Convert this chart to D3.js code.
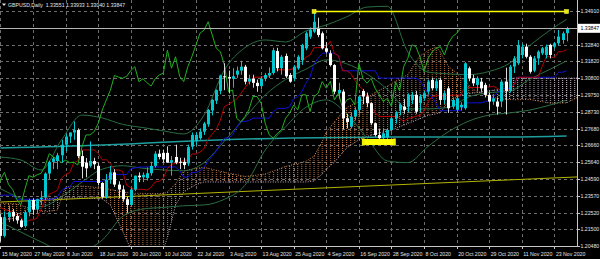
<!DOCTYPE html>
<html lang="en">
<head>
<meta charset="utf-8">
<title>GBPUSD,Daily</title>
<script src="https://cdn.jsdelivr.net/npm/d3@7/dist/d3.min.js"></script>
<style>
html, body { margin: 0; padding: 0; background: #000; overflow: hidden; }
svg { display: block; }
text { font-family: "Liberation Sans", Arial, sans-serif; }
</style>
</head>
<body>
<script>
// GBPUSD daily bars, 15 May 2020 .. 26 Nov 2020
var opens = [
  1.2225,1.2110,1.2225,1.2258,1.2232,1.2205,1.2170,1.2255,1.2330,1.2272,
  1.2336,1.2345,1.2493,1.2565,1.2570,1.2605,1.2670,1.2720,1.2745,1.2760,
  1.2600,1.2560,1.2540,1.2570,1.2540,1.2435,1.2350,1.2455,1.2500,1.2425,
  1.2395,1.2335,1.2300,1.2395,1.2480,1.2470,1.2465,1.2495,1.2540,1.2615,
  1.2620,1.2620,1.2560,1.2595,1.2565,1.2565,1.2555,1.2658,1.2695,1.2710,
  1.2750,1.2795,1.2880,1.2940,1.3000,1.3090,1.3085,1.3075,1.3100,1.3125,
  1.3149,1.3057,1.3075,1.3050,1.3030,1.3078,1.3095,1.3110,1.3245,1.3140,
  1.3215,1.3098,1.3078,1.3139,1.3190,1.3262,1.3333,1.3364,1.3384,1.3354,
  1.3262,1.3231,1.3159,1.2986,1.2996,1.2832,1.2781,1.2843,1.2884,1.3000,
  1.2966,1.2925,1.2802,1.2730,1.2710,1.2715,1.2761,1.2832,1.2884,1.2904,
  1.2904,1.2945,1.2976,1.2925,1.2956,1.2996,1.3068,1.3017,1.3068,1.2945,
  1.3016,1.2904,1.2884,1.2900,1.2894,1.3139,1.3078,1.3037,1.3057,1.3037,
  1.2976,1.2935,1.2935,1.2935,1.3057,1.3000,1.3150,1.3170,1.3221,1.3272,
  1.3210,1.3125,1.3200,1.3231,1.3221,1.3283,1.3272,1.3293,1.3313,1.33551];
var highs = [
  1.2245,1.2260,1.2296,1.2275,1.2250,1.2215,1.2265,1.2338,1.2340,1.2339,
  1.2385,1.2500,1.2572,1.2594,1.2620,1.2700,1.2735,1.2745,1.2813,1.2770,
  1.2634,1.2588,1.2690,1.2590,1.2560,1.2440,1.2490,1.2540,1.2520,1.2445,
  1.2420,1.2352,1.2405,1.2480,1.2500,1.2500,1.2530,1.2565,1.2630,1.2640,
  1.2640,1.2660,1.2600,1.2670,1.2590,1.2590,1.2670,1.2745,1.2745,1.2770,
  1.2810,1.2890,1.2950,1.3010,1.3100,1.3170,1.3125,1.3140,1.3150,1.3185,
  1.3160,1.3100,1.3100,1.3070,1.3090,1.3110,1.3145,1.3265,1.3265,1.3220,
  1.3230,1.3110,1.3160,1.3220,1.3290,1.3365,1.3390,1.3482,1.3450,1.3365,
  1.3300,1.3250,1.3165,1.3050,1.3010,1.2860,1.2870,1.2900,1.2975,1.3010,
  1.2990,1.2930,1.2805,1.2765,1.2770,1.2770,1.2840,1.2875,1.2925,1.2950,
  1.2985,1.2995,1.3000,1.2980,1.3000,1.3070,1.3082,1.3075,1.3082,1.3000,
  1.3030,1.2960,1.2975,1.2930,1.3177,1.3150,1.3100,1.3090,1.3080,1.3050,
  1.2990,1.2970,1.2960,1.3070,1.3143,1.3160,1.3215,1.3312,1.3290,1.3290,
  1.3220,1.3215,1.3250,1.3270,1.3285,1.3290,1.3300,1.3375,1.3365,1.33933];
var lows = [
  1.2075,1.2100,1.2195,1.2200,1.2185,1.2160,1.2160,1.2230,1.2240,1.2250,
  1.2300,1.2330,1.2460,1.2520,1.2520,1.2560,1.2630,1.2680,1.2700,1.2588,
  1.2463,1.2470,1.2530,1.2520,1.2420,1.2340,1.2340,1.2430,1.2410,1.2340,
  1.2320,1.2252,1.2290,1.2385,1.2440,1.2440,1.2450,1.2480,1.2530,1.2580,
  1.2560,1.2560,1.2480,1.2550,1.2520,1.2520,1.2540,1.2640,1.2665,1.2700,
  1.2730,1.2780,1.2850,1.2920,1.2980,1.3005,1.2985,1.3020,1.3080,1.3100,
  1.3040,1.3040,1.3020,1.2995,1.3010,1.3060,1.3080,1.3100,1.3120,1.3100,
  1.3080,1.3050,1.3060,1.3130,1.3160,1.3250,1.3320,1.3355,1.3330,1.3255,
  1.3230,1.3150,1.2980,1.2950,1.2765,1.2770,1.2770,1.2820,1.2860,1.2920,
  1.2900,1.2790,1.2720,1.2676,1.2690,1.2700,1.2750,1.2800,1.2850,1.2860,
  1.2870,1.2920,1.2860,1.2870,1.2940,1.2980,1.3005,1.3000,1.2915,1.2920,
  1.2865,1.2890,1.2870,1.2880,1.2885,1.3060,1.3030,1.3000,1.2995,1.2960,
  1.2884,1.2915,1.2855,1.2900,1.2855,1.2990,1.3110,1.3160,1.3200,1.3200,
  1.3107,1.3115,1.3160,1.3220,1.3200,1.3200,1.3260,1.3280,1.3290,1.33040];
var closes = [
  1.2110,1.2225,1.2255,1.2230,1.2205,1.2165,1.2255,1.2330,1.2272,1.2336,
  1.2345,1.2493,1.2565,1.2585,1.2605,1.2670,1.2720,1.2745,1.2760,1.2600,
  1.2535,1.2525,1.2570,1.2550,1.2435,1.2350,1.2455,1.2500,1.2425,1.2395,
  1.2335,1.2300,1.2395,1.2480,1.2470,1.2485,1.2495,1.2540,1.2615,1.2595,
  1.2580,1.2560,1.2575,1.2560,1.2563,1.2545,1.2655,1.2730,1.2730,1.2750,
  1.2800,1.2883,1.2945,1.3005,1.3095,1.3085,1.3078,1.3090,1.3125,1.3149,
  1.3057,1.3075,1.3050,1.3030,1.3075,1.3098,1.3110,1.3250,1.3140,1.3210,
  1.3090,1.3057,1.3149,1.3210,1.3282,1.3354,1.3374,1.3425,1.3344,1.3262,
  1.3241,1.3159,1.2996,1.3006,1.2832,1.2810,1.2842,1.2884,1.2966,1.2966,
  1.2925,1.2802,1.2730,1.2710,1.2740,1.2761,1.2832,1.2863,1.2914,1.2884,
  1.2976,1.2976,1.2873,1.2966,1.2986,1.3058,1.3017,1.3060,1.2945,1.2986,
  1.2894,1.2945,1.2955,1.2915,1.3170,1.3078,1.3047,1.3078,1.3016,1.2976,
  1.2935,1.2955,1.2904,1.3057,1.3000,1.3149,1.3200,1.3283,1.3272,1.3210,
  1.3118,1.3200,1.3241,1.3262,1.3272,1.3221,1.3293,1.3334,1.3354,1.33847];

// Ichimoku Tenkan-sen (red) and Kijun-sen (blue), one value per bar
var tenkan = [
  1.2285,1.2272,1.2265,1.2255,1.2238,1.2225,1.2188,1.2207,1.2208,1.2220,
  1.2273,1.2330,1.2366,1.2377,1.2390,1.2465,1.2488,1.2498,1.2557,1.2572,
  1.2637,1.2638,1.2638,1.2638,1.2617,1.2577,1.2577,1.2555,1.2515,1.2515,
  1.2505,1.2421,1.2406,1.2396,1.2396,1.2396,1.2391,1.2409,1.2441,1.2446,
  1.2465,1.2523,1.2550,1.2555,1.2560,1.2575,1.2575,1.2613,1.2613,1.2625,
  1.2645,1.2705,1.2735,1.2765,1.2820,1.2905,1.2918,1.2935,1.2950,1.2983,
  1.3018,1.3053,1.3083,1.3085,1.3085,1.3090,1.3090,1.3130,1.3130,1.3130,
  1.3130,1.3130,1.3138,1.3158,1.3170,1.3208,1.3220,1.3266,1.3266,1.3266,
  1.3271,1.3306,1.3231,1.3216,1.3124,1.3124,1.3108,1.3065,1.3033,1.3008,
  1.2965,1.2908,1.2865,1.2843,1.2843,1.2843,1.2843,1.2843,1.2833,1.2813,
  1.2831,1.2836,1.2845,1.2850,1.2875,1.2935,1.2966,1.2971,1.2971,1.2971,
  1.2971,1.2974,1.2974,1.2974,1.3021,1.3021,1.3021,1.3021,1.3021,1.3024,
  1.3024,1.3029,1.3016,1.3003,1.2999,1.3008,1.3035,1.3084,1.3084,1.3084,
  1.3084,1.3084,1.3084,1.3151,1.3210,1.3210,1.3204,1.3241,1.3241,1.3254];
var kijun = [
  1.2360,1.2360,1.2360,1.2360,1.2335,1.2335,1.2335,1.2335,1.2335,1.2335,
  1.2335,1.2335,1.2335,1.2335,1.2350,1.2388,1.2405,1.2410,1.2444,1.2444,
  1.2444,1.2444,1.2444,1.2444,1.2444,1.2444,1.2457,1.2487,1.2487,1.2487,
  1.2487,1.2487,1.2522,1.2527,1.2532,1.2533,1.2533,1.2533,1.2533,1.2533,
  1.2533,1.2533,1.2533,1.2533,1.2511,1.2471,1.2471,1.2499,1.2499,1.2511,
  1.2531,1.2571,1.2601,1.2631,1.2676,1.2711,1.2711,1.2730,1.2778,1.2813,
  1.2813,1.2818,1.2833,1.2833,1.2833,1.2833,1.2833,1.2873,1.2893,1.2893,
  1.2893,1.2903,1.2953,1.2965,1.2995,1.3048,1.3085,1.3166,1.3201,1.3231,
  1.3234,1.3234,1.3231,1.3216,1.3124,1.3124,1.3124,1.3124,1.3124,1.3124,
  1.3124,1.3124,1.3124,1.3079,1.3079,1.3079,1.3079,1.3079,1.3079,1.3079,
  1.3079,1.3079,1.3079,1.3063,1.3021,1.2988,1.2963,1.2921,1.2879,1.2879,
  1.2879,1.2879,1.2879,1.2879,1.2927,1.2927,1.2927,1.2927,1.2927,1.2934,
  1.2939,1.2964,1.2989,1.3014,1.3016,1.3016,1.3035,1.3084,1.3084,1.3084,
  1.3084,1.3084,1.3084,1.3084,1.3084,1.3084,1.3084,1.3115,1.3115,1.3124];
var chikouShift = 26;

// Senkou span A / B (the cloud), read at sample bars
var cloudBars = [0,4,7,11,14,15,16,20,25,27,30,32,40,41,43,45,48,50,55,60,65,70,75,77,79,80,82,85,88,90,92,95,96,100,103,104,105,107,108,110,112,114,116,117.5,120,123,124,126,130,135,139,142];
var spanA = [1.2312,1.2306,1.2281,1.2257,1.2269,1.2343,1.2410,1.2416,1.2404,1.2395,1.2380,1.2372,1.2370,1.2380,1.2430,1.2508,1.2525,1.2531,1.2501,1.2475,1.2490,1.2536,1.2568,1.2600,1.2690,1.2748,1.2810,1.2898,1.2935,1.2959,1.2990,1.3030,1.3045,1.3100,1.3216,1.3230,1.3249,1.3270,1.3240,1.3150,1.3110,1.3060,1.3010,1.2992,1.2965,1.2950,1.2948,1.2946,1.2948,1.2925,1.2927,1.2965];
var spanB = [1.2207,1.2219,1.2281,1.2337,1.2343,1.2343,1.2343,1.2343,1.2337,1.2300,1.2140,1.2030,1.2025,1.2100,1.2300,1.2380,1.2425,1.2441,1.2441,1.2441,1.2441,1.2441,1.2441,1.2447,1.2490,1.2520,1.2563,1.2650,1.2700,1.2720,1.2735,1.2755,1.2760,1.2800,1.2830,1.2840,1.2850,1.2860,1.2867,1.2934,1.2961,1.2981,1.2988,1.2992,1.3001,1.3011,1.3061,1.3079,1.3079,1.3079,1.3079,1.3079];

// Bollinger bands, read at sample bars
var bandBars = [0,5,10,15,20,25,30,35,40,45,50,55,60,65,70,75,80,85,90,95,100,105,110,115,120,125,130,135,139];
var bandUpper = [1.2594,1.2576,1.2515,1.2699,1.2852,1.2834,1.2795,1.2775,1.2755,1.2736,1.2852,1.3129,1.3265,1.3313,1.3301,1.3368,1.3405,1.3455,1.3515,1.3520,1.3240,1.3116,1.3105,1.3100,1.3120,1.3170,1.3280,1.3374,1.3440];
var bandMiddle = [1.2400,1.2340,1.2290,1.2350,1.2440,1.2520,1.2541,1.2525,1.2515,1.2510,1.2560,1.2692,1.2835,1.2975,1.3070,1.3134,1.3191,1.3167,1.3104,1.3010,1.2890,1.2890,1.2899,1.2964,1.2990,1.2999,1.3073,1.3134,1.3185];
var bandLower = [1.2195,1.2134,1.2073,1.2023,1.2023,1.2085,1.2230,1.2275,1.2285,1.2295,1.2300,1.2335,1.2420,1.2637,1.2780,1.2900,1.2945,1.2860,1.2710,1.2570,1.2560,1.2660,1.2750,1.2815,1.2852,1.2865,1.2883,1.2914,1.2944];

// long moving average (teal)
var maBars = [0,25,36,50,72,100,125,139];
var maValues = [1.2650,1.2668,1.2680,1.2696,1.2711,1.2717,1.2717,1.2723];

// drawn objects
var trendBars = [0, 141.6], trendPrices = [1.2318, 1.2472];
var hlineBars = [77, 139], hlinePrice = 1.3490;
var boxBars = [89.1, 96.7], boxPrices = [1.2668, 1.2705];

var priceLabels = ["1.34910","1.33880","1.32840","1.31820","1.30800","1.29750","1.28730","1.27680","1.26660","1.25640","1.24590","1.23570","1.22520","1.21500","1.20480"];
var dateLabels = ["15 May 2020","27 May 2020","8 Jun 2020","18 Jun 2020","30 Jun 2020","10 Jul 2020","22 Jul 2020","3 Aug 2020","13 Aug 2020","25 Aug 2020","4 Sep 2020","16 Sep 2020","28 Sep 2020","8 Oct 2020","20 Oct 2020","29 Oct 2020","11 Nov 2020","23 Nov 2020"];
var dateStep = 8;

var W = 600, H = 259, plotW = 577, plotH = 246;
var bullColor = "#00c8d0", bearColor = "#ffffff", textColor = "#e4e4e4";

var x = d3.scaleLinear().domain([0, 136]).range([0.4, 554.4]);
var y = d3.scaleLinear().domain([1.2048, 1.3491]).range([246, 11]);
var barW = x(1) - x(0);

var svg = d3.select("body").append("svg")
    .attr("width", W).attr("height", H)
    .style("background", "#000");
var defs = svg.append("defs");
defs.append("clipPath").attr("id", "plotClip")
    .append("rect").attr("x", 0).attr("y", 0).attr("width", plotW).attr("height", plotH);

// dotted vertical hatching for the cloud
function dotPattern(id, color) {
    var p = defs.append("pattern").attr("id", id)
        .attr("patternUnits", "userSpaceOnUse")
        .attr("x", x(0) - 0.5).attr("y", 0)
        .attr("width", barW).attr("height", 2);
    p.append("rect").attr("width", 1).attr("height", 1).attr("fill", color);
}
dotPattern("dotA", "#c27a48");
dotPattern("dotB", "#bba8bb");

// grid
var grid = svg.append("g").attr("stroke", "#6e6e6e").attr("stroke-width", 1).attr("stroke-dasharray", "3,3");
grid.selectAll("line.h").data(priceLabels).enter().append("line")
    .attr("x1", 0).attr("x2", plotW)
    .attr("y1", function(d) { return Math.round(y(+d)) + 0.5; })
    .attr("y2", function(d) { return Math.round(y(+d)) + 0.5; });
grid.selectAll("line.v").data(dateLabels).enter().append("line")
    .attr("y1", 0).attr("y2", plotH)
    .attr("x1", function(d, i) { return Math.round(x(i * dateStep)) + 0.5; })
    .attr("x2", function(d, i) { return Math.round(x(i * dateStep)) + 0.5; });

var plot = svg.append("g").attr("clip-path", "url(#plotClip)");

// cloud, split into runs where A is above or below B
var cloud = cloudBars.map(function(b, i) { return { b: b, a: spanA[i], s: spanB[i] }; });
var runs = [];
for (var i = 0; i < cloud.length - 1; i++) {
    var up = (cloud[i].a + cloud[i + 1].a) >= (cloud[i].s + cloud[i + 1].s);
    var last = runs[runs.length - 1];
    if (last && last.up === up) last.pts.push(cloud[i + 1]);
    else runs.push({ up: up, pts: [cloud[i], cloud[i + 1]] });
}
var cloudArea = d3.area()
    .x(function(d) { return x(d.b); })
    .y0(function(d) { return y(d.a); })
    .y1(function(d) { return y(d.s); });
plot.selectAll("path.cloud").data(runs).enter().append("path")
    .attr("d", function(d) { return cloudArea(d.pts); })
    .attr("fill", function(d) { return d.up ? "url(#dotA)" : "url(#dotB)"; });

function sampleLine(bars, vals, color, width, dash, curve) {
    var pts = bars.map(function(b, i) { return [x(b), y(vals[i])]; });
    var p = plot.append("path")
        .attr("d", d3.line().curve(curve || d3.curveLinear)(pts))
        .attr("fill", "none").attr("stroke", color).attr("stroke-width", width);
    if (dash) p.attr("stroke-dasharray", dash);
    return p;
}
var barIdx = d3.range(closes.length);

sampleLine(cloudBars, spanA, "#d08850", 1, "1,1.5");
sampleLine(cloudBars, spanB, "#c8b0c8", 1, "1,1.5");

// long MA and trend line
sampleLine(maBars, maValues, "#1f9e9e", 1.5, null, d3.curveMonotoneX);
sampleLine(trendBars, trendPrices, "#b4b400", 1);

// Bollinger bands
sampleLine(bandBars, bandUpper, "#2a6e44", 1, null, d3.curveMonotoneX);
sampleLine(bandBars, bandMiddle, "#2a6e44", 1, null, d3.curveMonotoneX);
sampleLine(bandBars, bandLower, "#2a6e44", 1, null, d3.curveMonotoneX);

// Kijun / Tenkan / Chikou
sampleLine(barIdx, kijun, "#1010d8", 1);
sampleLine(barIdx, tenkan, "#b80000", 1);
sampleLine(barIdx.map(function(i) { return i - chikouShift; }), closes, "#22b022", 1);

// candles
var candles = plot.append("g");
candles.selectAll("line.wick").data(barIdx).enter().append("line")
    .attr("x1", function(i) { return Math.round(x(i)) + 0.5; })
    .attr("x2", function(i) { return Math.round(x(i)) + 0.5; })
    .attr("y1", function(i) { return y(highs[i]); })
    .attr("y2", function(i) { return y(lows[i]); })
    .attr("stroke", function(i) { return closes[i] >= opens[i] ? bullColor : "#d8d8d8"; })
    .attr("stroke-width", 1);
candles.selectAll("rect.body").data(barIdx).enter().append("rect")
    .attr("x", function(i) { return Math.round(x(i)) - 1; })
    .attr("width", 3)
    .attr("y", function(i) { return y(Math.max(opens[i], closes[i])); })
    .attr("height", function(i) { return Math.max(1, Math.abs(y(opens[i]) - y(closes[i]))); })
    .attr("fill", function(i) { return closes[i] >= opens[i] ? bullColor : bearColor; });

// bid line
var lastClose = closes[closes.length - 1];
plot.append("line").attr("x1", 0).attr("x2", plotW)
    .attr("y1", Math.round(y(lastClose)) + 0.5).attr("y2", Math.round(y(lastClose)) + 0.5)
    .attr("stroke", "#b4b4b4").attr("stroke-width", 1);

// yellow objects
var hy = Math.round(y(hlinePrice)) + 0.5;
plot.append("line").attr("x1", x(hlineBars[0])).attr("x2", x(hlineBars[1]))
    .attr("y1", hy).attr("y2", hy).attr("stroke", "#ffff00").attr("stroke-width", 1.5);
plot.selectAll("rect.hh").data(hlineBars).enter().append("rect")
    .attr("x", function(b) { return x(b) - 2; }).attr("y", hy - 2)
    .attr("width", 4).attr("height", 4).attr("fill", "#e8e800").attr("stroke", "#ffff60").attr("stroke-width", 0.5);
plot.append("rect")
    .attr("x", x(boxBars[0])).attr("width", x(boxBars[1]) - x(boxBars[0]))
    .attr("y", y(boxPrices[1])).attr("height", y(boxPrices[0]) - y(boxPrices[1]))
    .attr("fill", "#ffff00");
plot.selectAll("rect.bh").data(boxBars).enter().append("rect")
    .attr("x", function(b) { return x(b) - 1.5; }).attr("y", y(boxPrices[1]) - 0.5)
    .attr("width", 3).attr("height", y(boxPrices[0]) - y(boxPrices[1]) + 1)
    .attr("fill", "#f0f000");

// frame
svg.append("line").attr("x1", plotW + 0.5).attr("x2", plotW + 0.5).attr("y1", 0).attr("y2", plotH + 0.5)
    .attr("stroke", "#c8c8c8");
svg.append("line").attr("x1", 0).attr("x2", plotW + 0.5).attr("y1", plotH + 0.5).attr("y2", plotH + 0.5)
    .attr("stroke", "#c8c8c8");

// price axis
var pax = svg.append("g");
pax.selectAll("line").data(priceLabels).enter().append("line")
    .attr("x1", plotW).attr("x2", plotW + 3)
    .attr("y1", function(d) { return Math.round(y(+d)) + 0.5; })
    .attr("y2", function(d) { return Math.round(y(+d)) + 0.5; })
    .attr("stroke", "#c8c8c8");
pax.selectAll("text").data(priceLabels).enter().append("text")
    .attr("x", plotW + 3.5).attr("y", function(d) { return y(+d) + 1.9; })
    .attr("font-size", "5.2px").attr("fill", textColor).text(function(d) { return d; });

// current price box
var by = y(lastClose);
svg.append("rect").attr("x", plotW + 1).attr("y", by - 4.5).attr("width", W - plotW - 1).attr("height", 9)
    .attr("fill", "#ffffff");
svg.append("text").attr("x", plotW + 3.5).attr("y", by + 1.9)
    .attr("font-size", "5.2px").attr("fill", "#000").text(lastClose.toFixed(5));

// date axis
var dax = svg.append("g");
dax.selectAll("line").data(dateLabels).enter().append("line")
    .attr("x1", function(d, i) { return Math.round(x(i * dateStep)) + 0.5; })
    .attr("x2", function(d, i) { return Math.round(x(i * dateStep)) + 0.5; })
    .attr("y1", plotH).attr("y2", plotH + 3)
    .attr("stroke", "#c8c8c8");
dax.selectAll("text").data(dateLabels).enter().append("text")
    .attr("x", function(d, i) { return x(i * dateStep) + 1.5; })
    .attr("y", 255.5)
    .attr("font-size", "5.2px").attr("fill", textColor).text(function(d) { return d; });

// header
var n = closes.length - 1;
svg.append("path").attr("d", "M2,3.5 L6,3.5 L4,6 Z").attr("fill", "#e0e0e0");
svg.append("text").attr("x", 8).attr("y", 7.2)
    .attr("font-size", "5.2px").attr("fill", textColor)
    .attr("xml:space", "preserve")
    .text("GBPUSD,Daily  " + [opens[n], highs[n], lows[n], closes[n]].map(function(v) { return v.toFixed(5); }).join(" "));
</script>
</body>
</html>
